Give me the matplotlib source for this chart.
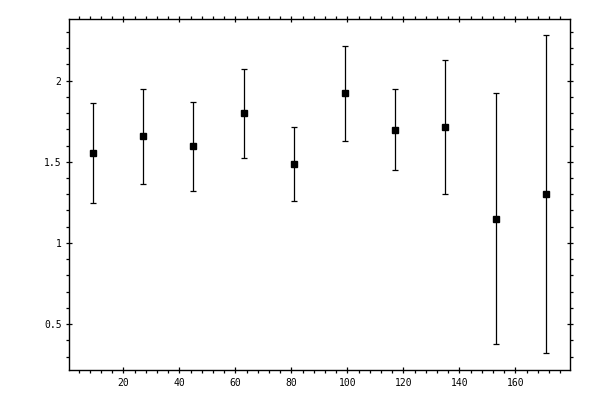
import numpy as np
import matplotlib
matplotlib.use("Agg")
import matplotlib.pyplot as plt
from matplotlib.ticker import MultipleLocator

# values
x = [9, 27, 45, 63, 81, 99, 117, 135, 153, 171]
y = [1.553, 1.657, 1.596, 1.799, 1.485, 1.922, 1.694, 1.713, 1.146, 1.302]
y_top = [1.861, 1.947, 1.869, 2.070, 1.713, 2.214, 1.947, 2.126, 1.922, 2.280]
y_bot = [1.245, 1.362, 1.318, 1.522, 1.257, 1.627, 1.448, 1.302, 0.376, 0.320]

y = np.array(y)
err = [y - np.array(y_bot), np.array(y_top) - y]

fig = plt.figure(figsize=(6, 4), dpi=100)
ax = fig.add_axes([0.1155, 0.075, 0.8345, 0.8775])

ax.errorbar(x, y, yerr=err, fmt='s', color='black', ms=5, ecolor='black',
            elinewidth=0.9, capsize=2.2, capthick=0.9)

ax.set_xlim(0.7, 179.5)
ax.set_ylim(0.217, 2.38)

ax.xaxis.set_major_locator(MultipleLocator(20))
ax.xaxis.set_minor_locator(MultipleLocator(4))
ax.yaxis.set_major_locator(MultipleLocator(0.5))
ax.yaxis.set_minor_locator(MultipleLocator(0.1))
ax.set_xticks([20, 40, 60, 80, 100, 120, 140, 160])
ax.set_yticks([0.5, 1, 1.5, 2])
ax.set_yticklabels(['0.5', '1', '1.5', '2'])

for s in ax.spines.values():
    s.set_linewidth(1.0)

ax.tick_params(which='major', direction='inout', length=5, width=0.9,
               top=True, right=True, labelsize=7, pad=3)
ax.tick_params(which='minor', direction='out', length=2.5, width=0.9,
               top=True, right=True)
for lab in ax.get_xticklabels() + ax.get_yticklabels():
    lab.set_family('DejaVu Sans Mono')

fig.savefig('out.png', dpi=100)
